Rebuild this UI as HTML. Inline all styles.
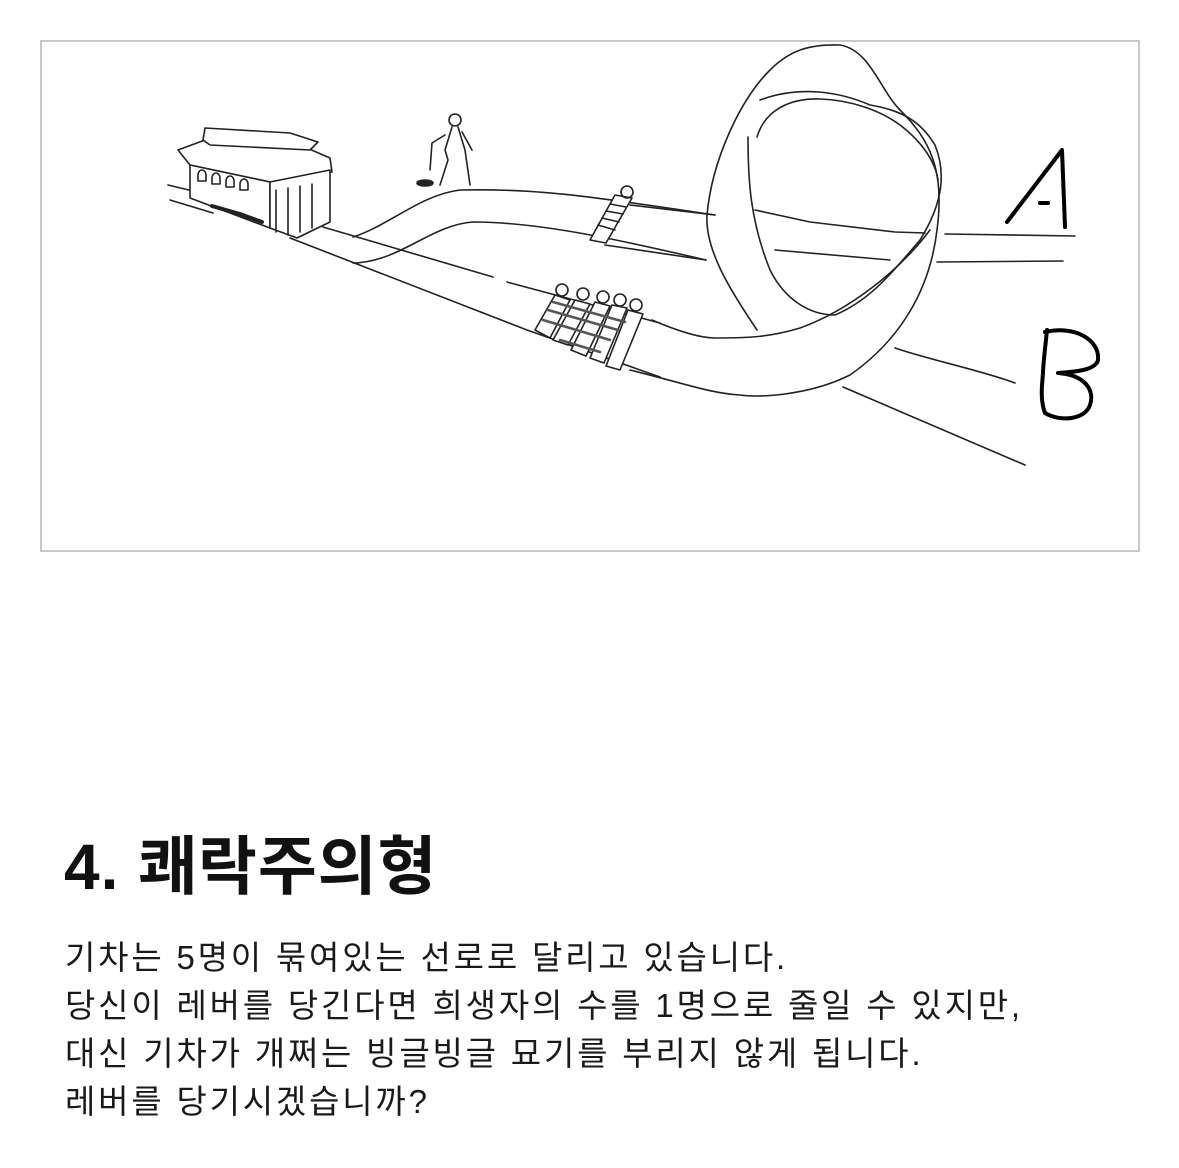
<!DOCTYPE html>
<html><head><meta charset="utf-8"><style>
html,body{margin:0;padding:0;background:#fff;width:1179px;height:1168px;overflow:hidden}
.frame{position:absolute;left:40px;top:40px;width:1096px;height:508px;border:2px solid #c8c8c8;background:#fff}
svg{position:absolute;left:0;top:0}
h1{position:absolute;left:64px;top:835px;margin:0;font:700 64px/1 "Liberation Sans","Noto Sans CJK KR",sans-serif;color:#111;letter-spacing:1px}
.body{position:absolute;left:65px;top:934px;font:400 33px/48px "Liberation Sans","Noto Sans CJK KR",sans-serif;color:#1a1a1a;white-space:nowrap;letter-spacing:2.8px}
</style></head><body>
<div class="frame"></div>
<svg width="1179" height="560" viewBox="0 0 1179 560" fill="none" stroke="#222" stroke-width="1.6" stroke-linecap="round" stroke-linejoin="round">
<path d="M168 185 L218 197"/><path d="M170 200 L213 213"/>
<path d="M323 227 L493 277"/><path d="M507 282 L660 323"/>
<path d="M290 238 L527 330 L660 377"/>
<path d="M353 237 C390 225 420 195 460 190 C540 188 600 198 715 215"/>
<path d="M353 263 C400 262 430 225 473 222 C540 222 620 240 706 260"/>
<path d="M178 150 L205 140 L300 145 L330 158 L332 172 L270 182 L190 165 Z" fill="#fff"/>
<path d="M203 140 L205 128 L290 133 L318 142 L310 150 L210 145 Z" fill="#fff"/>
<path d="M190 165 L190 198 L270 228 L270 182 Z" fill="#fff"/>
<path d="M270 182 L330 170 L330 222 L297 238 L270 228 Z" fill="#fff"/>
<path d="M276 190 L276 232 M288 188 L288 235 M300 186 L300 232 M312 184 L312 228"/>
<path d="M198 175 a4 5 0 0 1 8 0 v6 h-8z M212 178 a4 5 0 0 1 8 0 v6 h-8z M226 181 a4 5 0 0 1 8 0 v6 h-8z M240 184 a4 5 0 0 1 8 0 v6 h-8z"/>
<path d="M212 206 L240 214 L262 222" stroke-width="4"/>
<circle cx="455" cy="120" r="6"/>
<path d="M452 127 L445 150 L448 160 L440 185 M458 127 L465 150 L470 185 M445 135 L432 143 L430 170 M462 132 L472 150"/>
<ellipse cx="425" cy="183" rx="8" ry="3" fill="#222"/>
<path d="M590 240 L615 195 L632 198 L606 243 Z" fill="#fff"/>
<circle cx="627" cy="192" r="6"/>
<path d="M598 225 L615 230 M602 218 L619 222 M606 211 L623 214 M610 204 L626 207"/>
<g fill="#fff">
<path d="M535 330 L555 295 L570 300 L550 338 Z"/><path d="M553 340 L575 300 L590 304 L568 345 Z"/>
<path d="M571 350 L595 302 L610 306 L586 356 Z"/><path d="M590 358 L612 305 L627 308 L604 363 Z"/>
<path d="M606 366 L628 310 L643 314 L620 370 Z"/>
</g>
<circle cx="562" cy="290" r="6"/><circle cx="583" cy="294" r="6"/><circle cx="603" cy="297" r="6"/><circle cx="620" cy="300" r="6"/><circle cx="636" cy="305" r="6"/>
<path d="M543 320 L610 340 M548 310 L618 330 M553 302 L625 322 M560 340 L600 352" stroke-width="2.5" stroke="#555"/>
<path d="M757 330 C730 290 705 250 707 215 C712 160 740 100 770 70 C790 50 810 44 840 45 C870 50 880 90 900 110 C930 140 945 170 937 230 C930 290 900 340 850 375 C810 395 760 398 740 395 C710 393 690 385 630 370"/>
<path d="M748 137 C748 180 750 220 770 270 C785 300 810 315 835 315 C870 300 890 275 920 240 C945 200 945 170 935 145 C920 120 900 110 870 105 C840 92 800 85 760 100"/>
<path d="M757 137 C765 110 790 98 820 99 C850 100 880 110 900 125 C920 140 935 160 938 180"/>
<path d="M652 320 C680 332 700 338 715 338 C750 338 770 337 800 328 C850 310 900 270 930 230"/>
<path d="M630 205 L715 215"/><path d="M755 210 L810 222 L895 232 L925 233"/>
<path d="M605 245 L706 260"/><path d="M775 250 L890 260"/>
<path d="M945 234 L1075 236"/><path d="M937 262 L1063 261"/>
<path d="M895 348 C930 360 980 370 1015 383"/><path d="M843 387 L1025 465"/>
<path d="M1007 222 L1062 150 L1065 227 M1040 203 L1048 203" stroke="#000" stroke-width="4"/>
<path d="M1047 330 C1045 350 1043 365 1043 373 M1045 332 C1075 325 1100 340 1098 360 C1096 370 1075 372 1058 373 C1085 375 1095 390 1090 405 C1085 420 1060 422 1045 413 C1040 400 1042 385 1043 373" stroke="#000" stroke-width="4"/>
</svg>
<h1>4. 쾌락주의형</h1>
<div class="body">기차는 5명이 묶여있는 선로로 달리고 있습니다.<br>당신이 레버를 당긴다면 희생자의 수를 1명으로 줄일 수 있지만,<br>대신 기차가 개쩌는 빙글빙글 묘기를 부리지 않게 됩니다.<br>레버를 당기시겠습니까?</div>
</body></html>
